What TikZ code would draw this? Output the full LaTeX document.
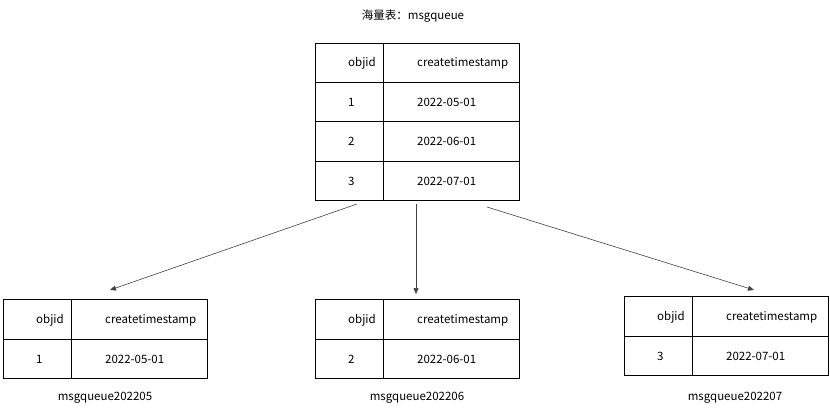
\documentclass[tikz,border=0pt]{standalone}
\usepackage{fontspec}
\setmainfont{Noto Sans CJK SC}
\usetikzlibrary{arrows.meta}
\begin{document}
\begin{tikzpicture}[x=1pt,y=-1pt,
  cell/.style={font=\fontsize{11.5}{13}\selectfont,anchor=west,inner sep=0},
  lbl/.style={font=\fontsize{11.5}{13}\selectfont},
  tline/.style={draw=black,line width=0.6pt},
  conn/.style={draw=black!75,line width=0.6pt,-{Triangle[length=6pt,width=5pt]}}]
\useasboundingbox (0,0) rectangle (830,412);
\node[lbl] (title) at (413,16) {海量表：msgqueue};
% top table
\draw[tline] (315,43) rectangle (519,200);
\foreach \y in {82,121,161} \draw[tline] (315,\y) -- (519,\y);
\draw[tline] (383,43) -- (383,200);
\node[cell] (t0a) at (348,63) {objid};
\node[cell] (t0b) at (417,63) {createtimestamp};
\node[cell] (t1a) at (348,102) {1};
\node[cell] (t1b) at (417,102) {2022-05-01};
\node[cell] (t2a) at (348,141) {2};
\node[cell] (t2b) at (417,141) {2022-06-01};
\node[cell] (t3a) at (348,181) {3};
\node[cell] (t3b) at (417,181) {2022-07-01};
% bottom tables
\foreach \n/\x/\y/\id/\dt in {L/3/299/1/2022-05-01, M/315/299/2/2022-06-01, R/624/296/3/2022-07-01}{
  \draw[tline] (\x,\y) rectangle ++(204,79);
  \draw[tline] (\x,\y+40) -- ++(204,0);
  \draw[tline] (\x+68,\y) -- ++(0,79);
  \node[cell] (\n h1) at (\x+33,\y+21) {objid};
  \node[cell] (\n h2) at (\x+102,\y+21) {createtimestamp};
  \node[cell] (\n r1) at (\x+33,\y+60) {\id};
  \node[cell] (\n r2) at (\x+102,\y+60) {\dt};
}
\node[lbl] (nL) at (105,398) {msgqueue202205};
\node[lbl] (nM) at (417,398) {msgqueue202206};
\node[lbl] (nR) at (735,398) {msgqueue202207};
\coordinate (a1) at (357,204); \coordinate (b1) at (110,290);
\coordinate (a2) at (416,204); \coordinate (b2) at (416,294);
\coordinate (a3) at (487,207); \coordinate (b3) at (754,290);
\draw[conn] (a1) -- (b1);
\draw[conn] (a2) -- (b2);
\draw[conn] (a3) -- (b3);
\end{tikzpicture}
\end{document}
